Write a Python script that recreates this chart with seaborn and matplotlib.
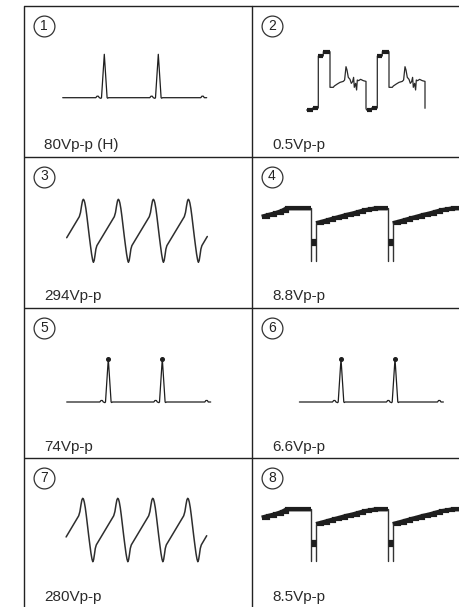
import numpy as np
import pandas as pd
import matplotlib
matplotlib.use("Agg")
import matplotlib.pyplot as plt
from matplotlib.lines import Line2D
import seaborn as sns

sns.set_style("white")
plt.rcParams["font.family"] = ["Liberation Sans", "DejaVu Sans"]

# ---- panel captions: measured peak-to-peak voltage of each trace ----
panel_ids = [1, 2, 3, 4, 5, 6, 7, 8]
vpp_values = [80, 0.5, 294, 8.8, 74, 6.6, 280, 8.5]
vpp_labels = ["80Vp-p (H)", "0.5Vp-p", "294Vp-p", "8.8Vp-p",
              "74Vp-p", "6.6Vp-p", "280Vp-p", "8.5Vp-p"]
wave_kind = ["pulse", "step", "saw", "ramp", "pulse", "pulse", "saw", "ramp"]
peak_dots = [False, False, False, False, True, True, False, False]

# ---- waveform traces (time in sample ticks, amplitude normalised to the swing) ----
# narrow spike pair with small pre-bumps
pulse_t = [-41.6, -8.5, -7.3, -6.0, -5.0, -3.4, -2.8, 0.0, 2.8, 3.4, 4.2,
           45.5, 46.7, 48.0, 49.0, 50.6, 51.2, 54.0, 56.8, 57.4, 58.2,
           96.5, 97.6, 99.0, 100.0, 102.4]
pulse_v = [0.0, 0.0, 0.035, 0.035, 0.0, -0.015, 0.0, 1.0, 0.0, -0.012, 0.0,
           0.0, 0.035, 0.035, 0.0, -0.015, 0.0, 1.0, 0.0, -0.012, 0.0,
           0.0, 0.035, 0.035, 0.0, 0.0]
pulse_peak_t = [0.0, 54.0]
pulse_peak_v = [1.0, 1.0]

# distorted sawtooth, four cycles
saw_t = [-16.6,
         -4.0, -2.8, -1.7, -0.8, 0.0, 0.8, 1.6, 2.6, 3.6, 4.8, 6.0, 7.2, 8.3, 9.3, 10.1, 10.9, 11.7, 12.6, 13.6,
         31.0, 32.2, 33.3, 34.2, 35.0, 35.8, 36.6, 37.6, 38.6, 39.8, 41.0, 42.2, 43.3, 44.3, 45.1, 45.9, 46.7, 47.6, 48.6,
         66.0, 67.2, 68.3, 69.2, 70.0, 70.8, 71.6, 72.6, 73.6, 74.8, 76.0, 77.2, 78.3, 79.3, 80.1, 80.9, 81.7, 82.6, 83.6,
         101.0, 102.2, 103.3, 104.2, 105.0, 105.8, 106.6, 107.6, 108.6, 109.8, 111.0, 112.2, 113.3, 114.3, 115.1, 115.9, 116.7, 117.6, 118.6,
         124.0]
saw_v = [0.39,
         0.724, 0.79, 0.90, 0.975, 1.0, 0.985, 0.94, 0.85, 0.73, 0.57, 0.41, 0.26, 0.13, 0.04, 0.0, 0.03, 0.11, 0.21, 0.265,
         0.724, 0.79, 0.90, 0.975, 1.0, 0.985, 0.94, 0.85, 0.73, 0.57, 0.41, 0.26, 0.13, 0.04, 0.0, 0.03, 0.11, 0.21, 0.265,
         0.724, 0.79, 0.90, 0.975, 1.0, 0.985, 0.94, 0.85, 0.73, 0.57, 0.41, 0.26, 0.13, 0.04, 0.0, 0.03, 0.11, 0.21, 0.265,
         0.724, 0.79, 0.90, 0.975, 1.0, 0.985, 0.94, 0.85, 0.73, 0.57, 0.41, 0.26, 0.13, 0.04, 0.0, 0.03, 0.11, 0.21, 0.265,
         0.41]

# two-level gate signal with ringing on the middle shelf
step_t = [-11.7, -5.7, -5.7, 0.0, 0.0, 5.0, 5.0, 11.7, 11.7, 15.0, 16.0, 19.0, 21.7, 25.0, 26.3,
          27.7, 28.7, 30.0, 31.7, 33.0, 34.3, 35.3, 36.0, 37.3, 38.3, 39.0, 40.3, 42.3, 45.0, 47.7, 47.7,
          48.3, 53.3, 53.3, 59.0, 59.0, 64.0, 64.0, 70.7, 70.7, 74.0, 75.0, 78.0, 80.7, 84.0, 85.3,
          86.7, 87.7, 89.0, 90.7, 92.0, 93.3, 94.3, 95.0, 96.3, 97.3, 98.0, 99.3, 101.3, 104.0, 106.7, 106.7]
step_v = [0.0, 0.0, 0.034, 0.034, 0.926, 0.926, 1.0, 1.0, 0.389, 0.389, 0.411, 0.446, 0.474, 0.491, 0.514,
          0.743, 0.686, 0.56, 0.526, 0.457, 0.486, 0.56, 0.389, 0.457, 0.343, 0.514, 0.503, 0.526, 0.503, 0.491, 0.029,
          0.0, 0.0, 0.034, 0.034, 0.926, 0.926, 1.0, 1.0, 0.389, 0.389, 0.411, 0.446, 0.474, 0.491, 0.514,
          0.743, 0.686, 0.56, 0.526, 0.457, 0.486, 0.56, 0.389, 0.457, 0.343, 0.514, 0.503, 0.526, 0.503, 0.491, 0.029]
# flat-top dwell marks on the step levels (start, end, level)
step_dash_t0 = [-11.7, -5.7, 0.0, 5.0, 48.3, 53.3, 59.0, 64.0]
step_dash_t1 = [-5.7, -0.7, 5.0, 11.7, 53.3, 58.3, 64.0, 70.7]
step_dash_v = [0.0, 0.034, 0.926, 1.0, 0.0, 0.034, 0.926, 1.0]

# staircase ramp with deep switching notches
ramp_seg_t = [
    [-49.3, -42.7, -36.0, -29.3, -24.3, 0.0],
    [5.0, 11.0, 17.0, 23.0, 29.0, 35.0, 41.0, 47.0, 53.0, 59.0, 65.0, 76.7],
    [81.7, 87.7, 93.7, 99.7, 105.7, 111.7, 117.7, 123.7, 129.7, 135.7, 141.7, 152.0],
]
ramp_seg_v = [
    [0.84, 0.873, 0.905, 0.949, 1.0, 1.0],
    [0.716, 0.746, 0.778, 0.81, 0.84, 0.873, 0.898, 0.93, 0.962, 0.98, 1.0, 1.0],
    [0.716, 0.746, 0.778, 0.81, 0.84, 0.873, 0.898, 0.93, 0.962, 0.98, 1.0, 1.0],
]
notch_fall_t = [0.0, 76.7]
notch_rise_t = [5.0, 81.7]
notch_top_v = [1.0, 1.0]
notch_rise_v = [0.716, 0.716]
notch_low_v = [0.0, 0.0]
notch_mark_v = [0.36, 0.36]

# ---- layout: cell geometry in pixels and where each trace sits in its cell ----
FIG_W, FIG_H = 460, 607
col_left = [24, 252]
col_w = [228, 207]          # the right column runs to the sheet edge
row_top = [6, 157, 308, 458]
row_h = [151, 151, 150, 149]
# (x of t=0, y of v=0, pixel height of unit swing) inside each cell
trace_place = {1: (80.3, 91.7, 43.4), 2: (66.3, 104.0, 58.3), 3: (59.3, 105.3, 63.0),
               4: (59.0, 104.0, 52.7), 5: (84.3, 94.0, 43.3), 6: (89.0, 94.0, 43.3),
               7: (58.7, 103.7, 63.4), 8: (59.0, 103.3, 52.0)}

INK = "#1e1e1e"
GRID = "#222222"
TEXT = "#2b2b2b"

fig = plt.figure(figsize=(FIG_W / 100, FIG_H / 100), dpi=100)
fig.patch.set_facecolor("white")
fig.patch.set_edgecolor("white")
fig.patch.set_linewidth(0)


def frame(t, v, seg=0):
    return pd.DataFrame({"t": t, "v": v, "seg": seg})


def trace(ax, df, scale, **kw):
    d = df.copy()
    d["v"] = d["v"] * scale
    sns.lineplot(data=d, x="t", y="v", units="seg", estimator=None, sort=False,
                 legend=False, ax=ax, **kw)


for i, pid in enumerate(panel_ids):
    r, c = divmod(i, 2)
    x_px, y_px, w_px, h_px = col_left[c], row_top[r], col_w[c], row_h[r]
    ax = fig.add_axes([x_px / FIG_W, 1 - (y_px + h_px) / FIG_H, w_px / FIG_W, h_px / FIG_H])
    ax.patch.set_visible(False)
    vpp = vpp_values[i]
    kind = wave_kind[i]

    if kind == "pulse":
        trace(ax, frame(pulse_t, pulse_v), vpp, color=INK, lw=0.9)
        if peak_dots[i]:
            ax.plot(pulse_peak_t, np.array(pulse_peak_v) * vpp, "o", ms=2.6, color=INK)
    elif kind == "saw":
        trace(ax, frame(saw_t, saw_v), vpp, color="#2e2e2e", lw=1.1)
    elif kind == "step":
        trace(ax, frame(step_t, step_v), vpp, color="#2a2a2a", lw=0.9)
        dashes = pd.concat([frame([a, b], [lv, lv], k) for k, (a, b, lv) in
                            enumerate(zip(step_dash_t0, step_dash_t1, step_dash_v))])
        trace(ax, dashes, vpp, color=INK, lw=3.0, solid_capstyle="butt")
    elif kind == "ramp":
        thick = pd.concat([frame(tt, vv, k) for k, (tt, vv) in enumerate(zip(ramp_seg_t, ramp_seg_v))])
        # solid band plus stepped outline
        trace(ax, thick, vpp, color=INK, lw=3.0, solid_capstyle="butt", solid_joinstyle="round")
        trace(ax, thick, vpp, color=INK, lw=3.0, drawstyle="steps-post",
              solid_capstyle="butt", solid_joinstyle="miter")
        edges = pd.concat(
            [frame([tf, tf], [vt, vl], 2 * k) for k, (tf, vt, vl) in enumerate(zip(notch_fall_t, notch_top_v, notch_low_v))]
            + [frame([tr, tr], [vl, vr], 2 * k + 1) for k, (tr, vl, vr) in enumerate(zip(notch_rise_t, notch_low_v, notch_rise_v))])
        trace(ax, edges, vpp, color="#333333", lw=1.0)
        marks = pd.concat([frame([tf, tr], [mv, mv], k) for k, (tf, tr, mv) in
                           enumerate(zip(notch_fall_t, notch_rise_t, notch_mark_v))])
        trace(ax, marks, vpp, color=INK, lw=5.2, solid_capstyle="butt")

    x0, base, amp = trace_place[pid]
    ax.set_xlim(-x0, w_px - x0)
    ax.set_ylim(vpp * (base - h_px) / amp, vpp * base / amp)
    ax.set_xticks([])
    ax.set_yticks([])
    ax.set_xlabel("")
    ax.set_ylabel("")
    for s in ax.spines.values():
        s.set_visible(False)

    # circled panel number
    cx, cy = 20 / w_px, 1 - 19.5 / h_px
    ax.plot([cx], [cy], "o", ms=15, mfc="white", mec="#333333", mew=0.9,
            transform=ax.transAxes, clip_on=False)
    ax.text(cx, cy, str(pid), transform=ax.transAxes, ha="center", va="center",
            fontsize=10, color="#222222")
    # peak-to-peak caption
    ax.text(20 / w_px, 1 - 139 / h_px, vpp_labels[i], transform=ax.transAxes,
            ha="left", va="center", fontsize=11, color=TEXT)

# table rules: open on the right and bottom where the sheet is trimmed
for xv in (24, 252):
    fig.add_artist(Line2D([xv / FIG_W, xv / FIG_W], [1 - 6 / FIG_H, 0.0],
                          transform=fig.transFigure, color=GRID, lw=1.0))
for yh in row_top:
    fig.add_artist(Line2D([24 / FIG_W, 459 / FIG_W], [1 - yh / FIG_H, 1 - yh / FIG_H],
                          transform=fig.transFigure, color=GRID, lw=1.0,
                          solid_capstyle="butt"))

fig.savefig("out.png", dpi=100)
